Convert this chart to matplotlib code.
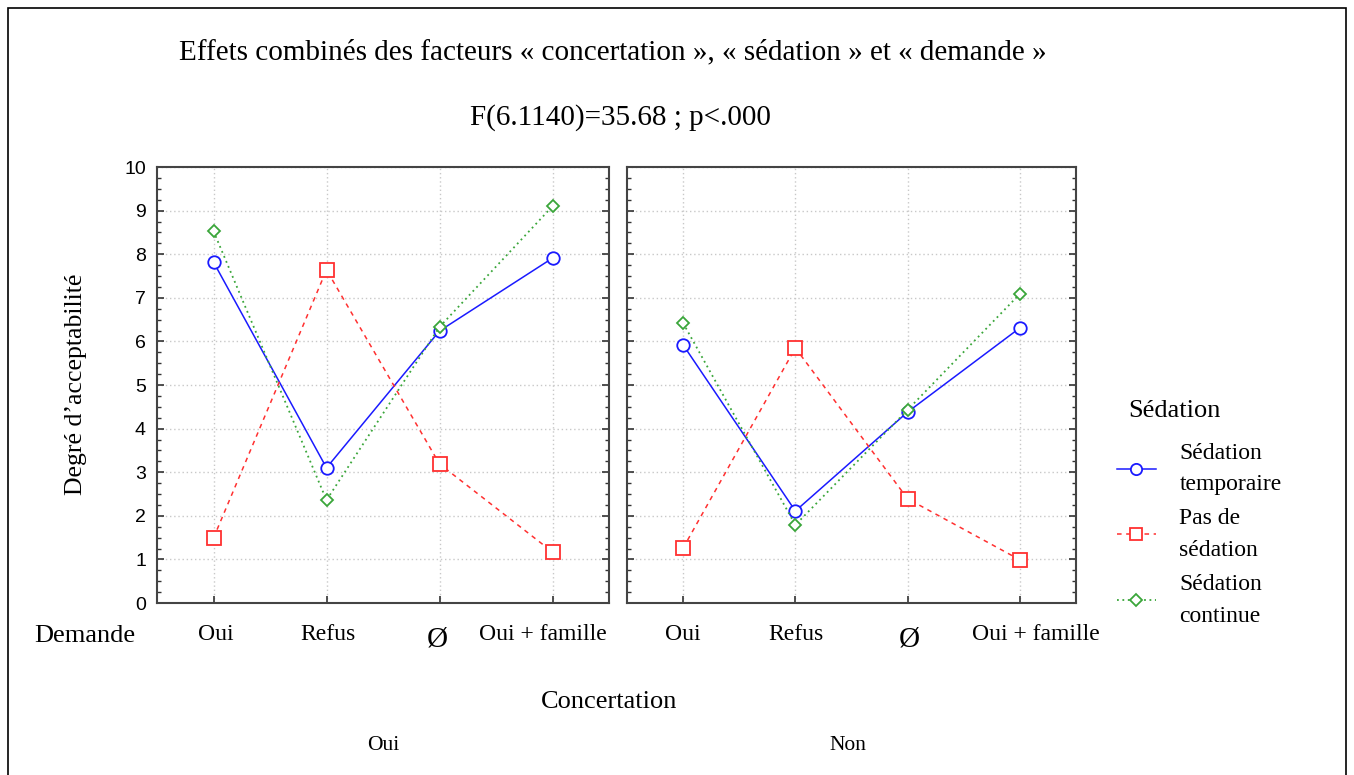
import matplotlib
matplotlib.use("Agg")
import matplotlib.pyplot as plt
from matplotlib.ticker import MultipleLocator
from matplotlib.patches import Rectangle

categories = ["Oui", "Refus", "Ø", "Oui + famille"]
panels = ["Oui", "Non"]
series_names = ["Sédation\ntemporaire", "Pas de\nsédation", "Sédation\ncontinue"]
legend_title = "Sédation"

temp_oui = [7.82, 3.10, 6.24, 7.91]
pas_oui = [1.49, 7.64, 3.19, 1.17]
cont_oui = [8.53, 2.36, 6.33, 9.10]

temp_non = [5.92, 2.11, 4.38, 6.31]
pas_non = [1.26, 5.85, 2.39, 0.99]
cont_non = [6.42, 1.79, 4.43, 7.09]

panel_data = [[temp_oui, pas_oui, cont_oui], [temp_non, pas_non, cont_non]]

styles = [
    dict(color="#1a1aff", linestyle="-", marker="o", markersize=9, lw=1.1),
    dict(color="#ff3030", linestyle=(0, (3, 3)), marker="s", markersize=9.5, lw=1.1),
    dict(color="#3aa63a", linestyle=(0, (1, 2)), marker="D", markersize=6.5, lw=1.3),
]

# pixel nudges of the category labels (as in the original layout)
label_dx = [[2, 1, -2, -10], [0, 1, 2, 16]]

W, H = 1354, 775
fig = plt.figure(figsize=(W / 100, H / 100), dpi=100)
fig.patch.set_facecolor("white")

serif = "Liberation Serif"
sans = "Liberation Sans"

fig.add_artist(Rectangle((8 / W, -0.01), (1346 - 8) / W, 1 - 8 / H + 0.01,
                         transform=fig.transFigure, fill=False, lw=1.2, ec="black"))

ax_pos = [(157, 609), (627, 1076)]
y_top, y_bot = 167, 603
for i, (x0, x1) in enumerate(ax_pos):
    ax = fig.add_axes([x0 / W, 1 - y_bot / H, (x1 - x0) / W, (y_bot - y_top) / H])
    xs = list(range(len(categories)))
    lines = []
    for vals, st, name in zip(panel_data[i], styles, series_names):
        ln, = ax.plot(xs, vals, color=st["color"], linestyle=st["linestyle"], lw=st["lw"],
                      marker=st["marker"], markersize=st["markersize"],
                      markerfacecolor="white", markeredgecolor=st["color"],
                      markeredgewidth=1.3, label=name, zorder=3)
        lines.append(ln)
    ax.set_xlim(-0.5, 3.5)
    ax.set_ylim(0, 10)
    ax.yaxis.set_major_locator(MultipleLocator(1))
    ax.yaxis.set_minor_locator(MultipleLocator(0.25))
    ax.set_xticks(xs)
    ax.set_xticklabels([])
    ax.grid(True, which="major", color="#c8c8c8", linestyle=(0, (1, 2)), lw=1)
    ax.tick_params(axis="both", which="both", direction="in", right=True, top=False,
                   color="#333333")
    ax.tick_params(axis="both", which="major", length=5, width=1.2)
    ax.tick_params(axis="y", which="minor", length=3, width=1)
    for sp in ax.spines.values():
        sp.set_linewidth(1.5)
        sp.set_color("#444444")
    if i == 0:
        ax.tick_params(axis="y", labelsize=14, pad=8)
        for lab in ax.get_yticklabels():
            lab.set_fontfamily(sans)
        handles = lines
    else:
        ax.set_yticklabels([])
    for xv, cat, dx in zip(xs, categories, label_dx[i]):
        fs = 21 if cat == "Ø" else 17
        dy = 3 if cat == "Ø" else 0
        ax.annotate(cat, xy=(xv, 0), xycoords="data", xytext=(dx * 0.72, -23 - dy),
                    textcoords="offset points", ha="center", va="center",
                    fontfamily=serif, fontsize=fs)

fig.text(613 / W, 1 - 52 / H,
         "Effets combinés des facteurs « concertation », « sédation » et « demande »",
         ha="center", va="center", fontfamily=serif, fontsize=21)
fig.text(620 / W, 1 - 118 / H, "F(6.1140)=35.68 ; p<.000",
         ha="center", va="center", fontfamily=serif, fontsize=21)
fig.text(76 / W, 1 - 384 / H, "Degré d’acceptabilité", rotation=90,
         ha="center", va="center", fontfamily=serif, fontsize=18.5)
fig.text(85 / W, 1 - 636 / H, "Demande", ha="center", va="center",
         fontfamily=serif, fontsize=19)
fig.text(609 / W, 1 - 702 / H, "Concertation", ha="center", va="center",
         fontfamily=serif, fontsize=19)
for lab, xc in zip(panels, [383, 848]):
    fig.text(xc / W, 1 - 746 / H, lab, ha="center", va="center",
             fontfamily=serif, fontsize=15.5)

fig.text(1128 / W, 1 - 411 / H, legend_title, ha="left", va="center",
         fontfamily=serif, fontsize=19)
leg = fig.legend(handles=handles, labels=series_names,
                 loc="upper left", bbox_to_anchor=(1098 / W, 1 - 424 / H),
                 frameon=False, prop={"family": serif, "size": 17},
                 handlelength=1.65, handletextpad=1.0, labelspacing=0.55,
                 borderpad=0.3)
for t in leg.get_texts():
    t.set_linespacing(1.66)
for h in leg.legend_handles:
    h.set_markersize(h.get_markersize() * 0.9)

fig.savefig("out.png", dpi=100, facecolor="white")
